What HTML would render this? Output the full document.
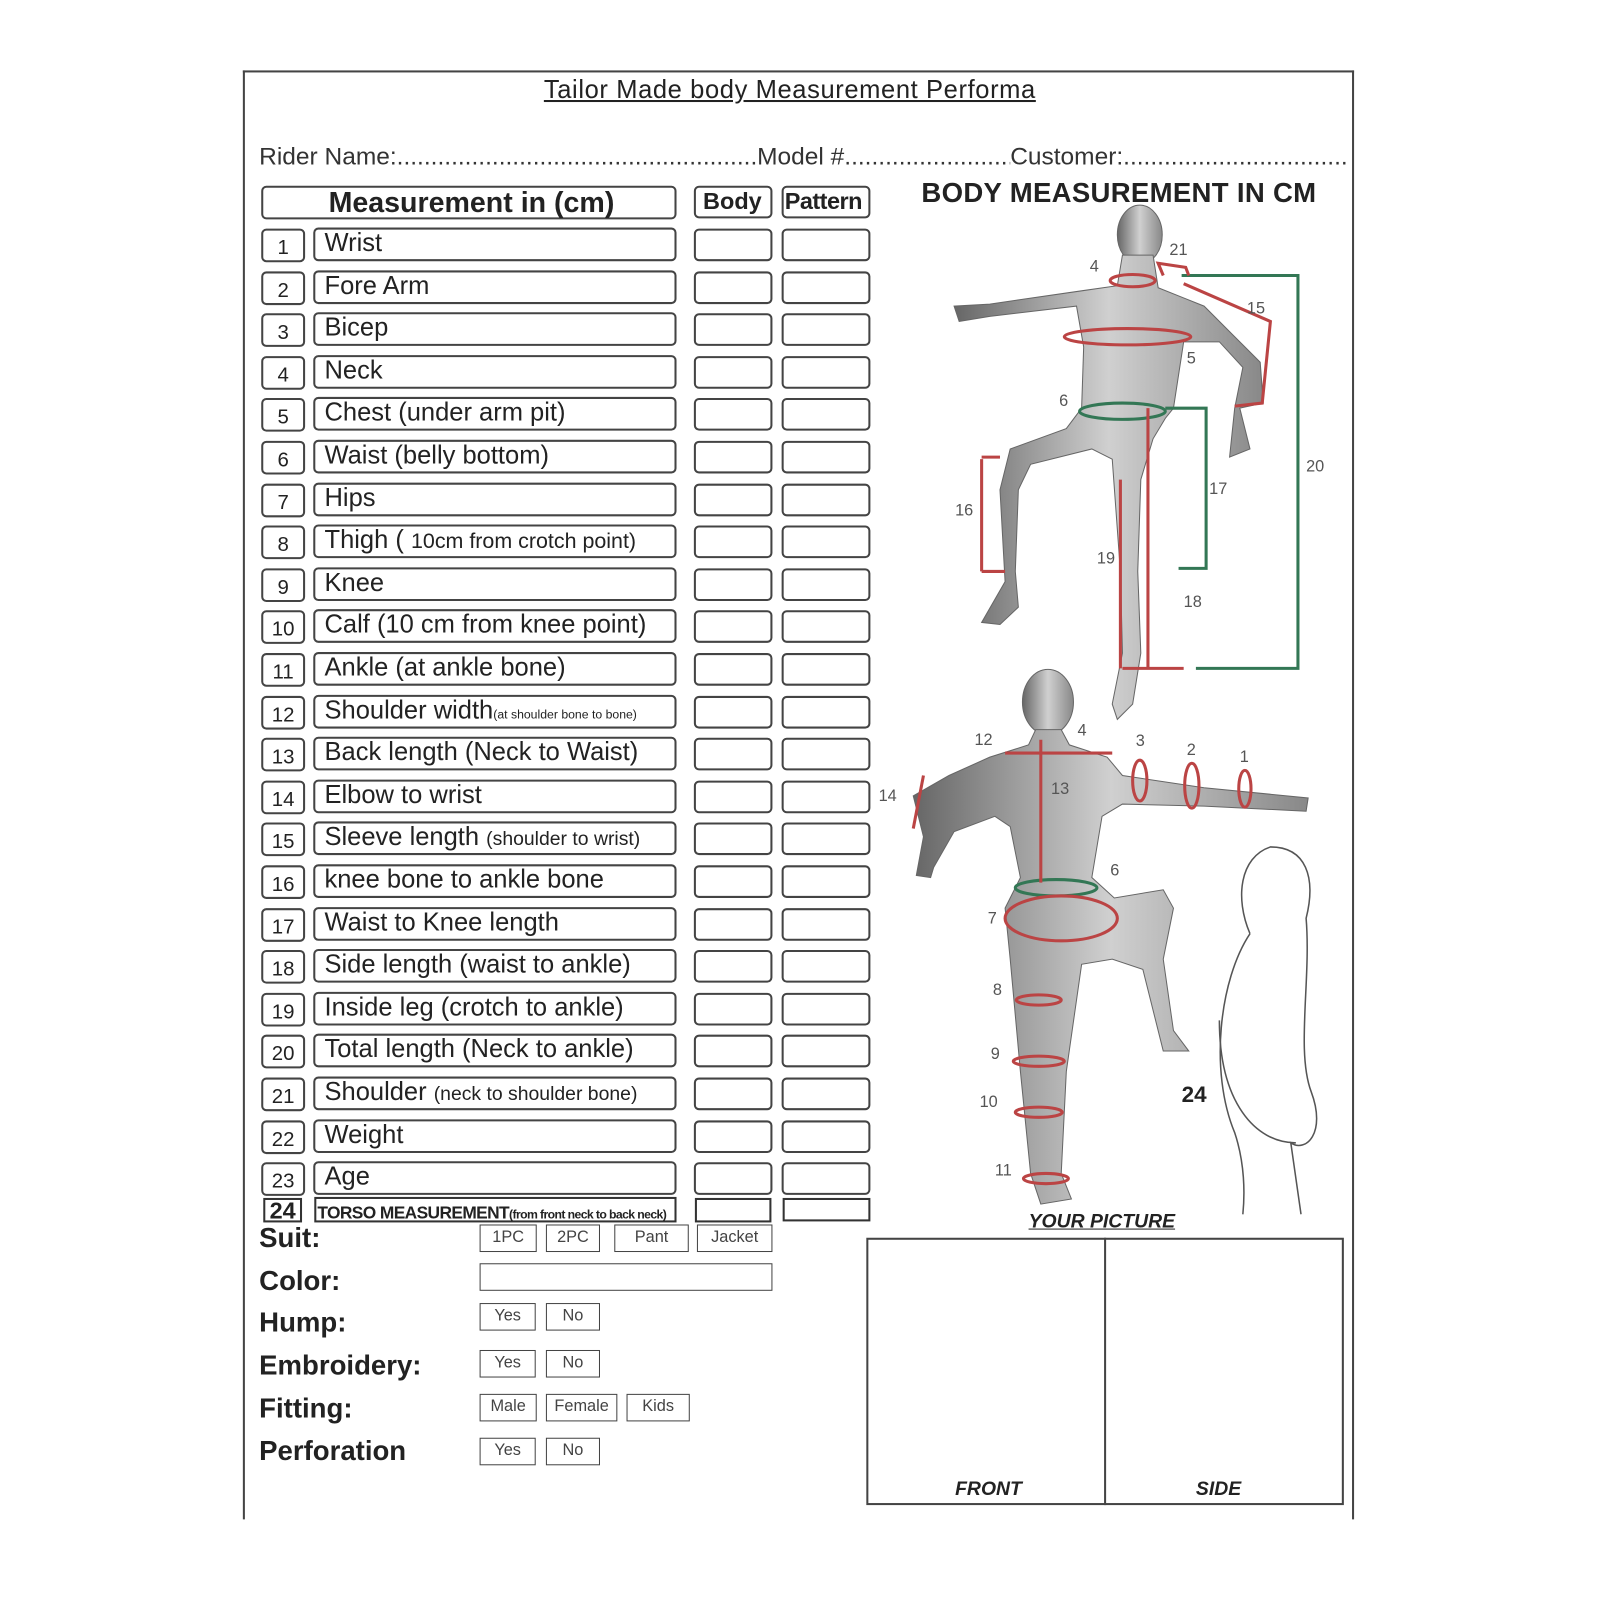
<!DOCTYPE html>
<html><head><meta charset="utf-8"><style>
html,body{margin:0;padding:0;background:#fff;width:1600px;height:1600px;overflow:hidden}
#w{position:absolute;left:0;top:0;width:1568px;height:1568px;transform:scale(1.0204);transform-origin:0 0;font-family:"Liberation Sans",sans-serif;color:#222}
.a{position:absolute}
.b{position:absolute;border:2px solid #444;border-radius:5px;box-sizing:border-box;background:#fff}
.t{position:absolute;font-size:25px;white-space:nowrap;line-height:1}
.d{position:absolute;font-size:24px;white-space:nowrap;line-height:1;overflow:hidden;color:#333}
.sq{position:absolute;border:1.5px solid #444;box-sizing:border-box;font-size:16px;text-align:center;color:#444}
.lab{position:absolute;left:254px;font-size:27px;font-weight:bold;line-height:1}
</style></head><body><div id="w">
<div class="a" style="left:238px;top:69px;width:1089px;height:2px;background:#444"></div>
<div class="a" style="left:238px;top:69px;width:2px;height:1420px;background:#444"></div>
<div class="a" style="left:1325px;top:69px;width:2px;height:1420px;background:#444"></div>
<div class="t" style="left:533px;top:76px;font-size:25px;letter-spacing:0.6px;text-decoration:underline">Tailor Made body Measurement Performa</div>
<div class="d" style="left:254px;top:142px;width:488px">Rider Name:....................................................................</div>
<div class="d" style="left:742px;top:142px;width:248px">Model #..................................................</div>
<div class="d" style="left:990px;top:142px;width:330px">Customer:.......................................................</div>

<div class="b" style="left:256px;top:182px;width:407px;height:33px"></div>
<div class="t" style="left:322px;top:185px;font-size:28px;font-weight:bold">Measurement in (cm)</div>
<div class="b" style="left:680px;top:182px;width:77px;height:32px"></div>
<div class="t" style="left:689px;top:186px;font-size:23px;font-weight:bold">Body</div>
<div class="b" style="left:766px;top:182px;width:87px;height:32px"></div>
<div class="t" style="left:769px;top:186px;font-size:23px;font-weight:bold;letter-spacing:-0.5px">Pattern</div>

<div id="rows"></div>

<div class="a" style="left:258px;top:1174px;width:38px;height:24px;border:2px solid #333;box-sizing:border-box;font-size:23px;font-weight:bold;line-height:20px;text-align:center">24</div>
<div class="a" style="left:308px;top:1173px;width:355px;height:25px;border:2px solid #333;box-sizing:border-box"></div>
<div class="t" style="left:311px;top:1180px;font-size:17px;font-weight:bold;letter-spacing:-0.6px">TORSO MEASUREMENT<span style="font-size:12px">(from front neck to back neck)</span></div>
<div class="a" style="left:681px;top:1174px;width:75px;height:24px;border:2px solid #333;box-sizing:border-box"></div>
<div class="a" style="left:767px;top:1174px;width:86px;height:23px;border:2px solid #333;box-sizing:border-box"></div>

<div class="lab" style="top:1200px">Suit:</div>
<div class="lab" style="top:1242px">Color:</div>
<div class="lab" style="top:1283px">Hump:</div>
<div class="lab" style="top:1325px">Embroidery:</div>
<div class="lab" style="top:1367px">Fitting:</div>
<div class="lab" style="top:1409px">Perforation</div>

<div class="sq" style="left:470px;top:1200px;width:56px;height:27px;line-height:24px">1PC</div>
<div class="sq" style="left:535px;top:1200px;width:53px;height:27px;line-height:24px">2PC</div>
<div class="sq" style="left:602px;top:1200px;width:73px;height:27px;line-height:24px">Pant</div>
<div class="sq" style="left:683px;top:1200px;width:74px;height:27px;line-height:24px">Jacket</div>
<div class="sq" style="left:470px;top:1238px;width:287px;height:27px"></div>
<div class="sq" style="left:470px;top:1277px;width:55px;height:27px;line-height:24px">Yes</div>
<div class="sq" style="left:535px;top:1277px;width:53px;height:27px;line-height:24px">No</div>
<div class="sq" style="left:470px;top:1323px;width:55px;height:27px;line-height:24px">Yes</div>
<div class="sq" style="left:535px;top:1323px;width:53px;height:27px;line-height:24px">No</div>
<div class="sq" style="left:470px;top:1366px;width:56px;height:27px;line-height:24px">Male</div>
<div class="sq" style="left:535px;top:1366px;width:70px;height:27px;line-height:24px">Female</div>
<div class="sq" style="left:614px;top:1366px;width:62px;height:27px;line-height:24px">Kids</div>
<div class="sq" style="left:470px;top:1409px;width:55px;height:27px;line-height:24px">Yes</div>
<div class="sq" style="left:535px;top:1409px;width:53px;height:27px;line-height:24px">No</div>

<div class="t" style="left:1008px;top:1188px;font-size:19px;font-weight:bold;font-style:italic;text-decoration:underline">YOUR PICTURE</div>
<div class="a" style="left:849px;top:1213px;width:468px;height:262px;border:2px solid #444;box-sizing:border-box"></div>
<div class="a" style="left:1082px;top:1213px;width:2px;height:262px;background:#444"></div>
<div class="t" style="left:936px;top:1450px;font-size:19px;font-weight:bold;font-style:italic">FRONT</div>
<div class="t" style="left:1172px;top:1450px;font-size:19px;font-weight:bold;font-style:italic">SIDE</div>

<div class="t" style="left:903px;top:176px;font-size:27px;font-weight:bold;letter-spacing:0.3px">BODY MEASUREMENT IN CM</div>

<svg class="a" style="left:0;top:0" width="1568" height="1568" viewBox="0 0 1568 1568">
<defs><linearGradient id="g" x1="0" x2="1"><stop offset="0" stop-color="#666"/><stop offset="0.5" stop-color="#d0d0d0"/><stop offset="1" stop-color="#888"/></linearGradient></defs>
<g fill="url(#g)" stroke="#666" stroke-width="1">
<ellipse cx="1117" cy="230" rx="22" ry="29"/>
<path d="M1100 250 L1130 250 L1135 282 L1160 292 L1180 300 L1210 330 L1235 355 L1238 395 L1215 400 L1225 440 L1205 448 L1210 400 L1218 360 L1195 335 L1160 335 L1150 400 L1142 410 L1130 430 L1118 470 L1115 560 L1118 640 L1110 690 L1095 705 L1090 690 L1100 640 L1098 560 L1090 450 L1070 440 L1010 455 L998 480 L995 560 L998 595 L980 612 L962 610 L985 570 L980 480 L990 440 L1045 420 L1060 400 L1062 340 L1055 300 L970 310 L940 315 L935 300 L970 298 L1060 285 L1095 280 Z"/>
<ellipse cx="1027" cy="688" rx="25" ry="32"/>
<path d="M1015 715 L1040 715 L1048 730 L1085 742 L1100 760 L1180 772 L1282 782 L1280 795 L1180 790 L1100 788 L1080 800 L1070 860 L1092 880 L1140 872 L1150 890 L1140 940 L1150 1010 L1165 1030 L1140 1030 L1120 950 L1090 940 L1060 945 L1045 1050 L1040 1150 L1050 1175 L1020 1180 L1010 1150 L1000 1050 L990 940 L985 890 L1000 860 L990 810 L975 800 L935 815 L915 850 L912 860 L898 858 L905 820 L895 780 L930 760 L970 742 L1008 730 Z"/>
</g>
<g fill="none" stroke="#337755" stroke-width="3">
<path d="M1158 270 H1272 V655 H1172"/>
<path d="M1142 400 H1182 V557 H1155"/>
<ellipse cx="1100" cy="403" rx="42" ry="8"/>
<ellipse cx="1035" cy="870" rx="40" ry="8"/>
</g>
<g fill="none" stroke="#b44" stroke-width="3">
<path d="M1140 270 L1135 258 L1162 262 L1165 270"/>
<ellipse cx="1110" cy="275" rx="22" ry="6"/>
<ellipse cx="1105" cy="330" rx="62" ry="8"/>
<path d="M1160 278 L1245 315 L1237 395 L1210 398"/>
<path d="M1125 400 V655 M1098 470 V655 M962 450 V560 M1100 655 H1160"/>
<path d="M962 448 H980 M962 560 H985"/>
<path d="M1020 725 V865 M985 738 H1090"/>
<path d="M905 760 L895 812"/>
<ellipse cx="1117" cy="765" rx="7" ry="20"/><ellipse cx="1168" cy="770" rx="7" ry="22"/><ellipse cx="1220" cy="773" rx="6" ry="18"/>
<ellipse cx="1040" cy="900" rx="55" ry="22"/>
<ellipse cx="1018" cy="980" rx="22" ry="5"/><ellipse cx="1018" cy="1040" rx="25" ry="5"/><ellipse cx="1018" cy="1090" rx="23" ry="5"/><ellipse cx="1025" cy="1155" rx="22" ry="5"/>
</g>
<g fill="none" stroke="#555" stroke-width="1.5">
<path d="M1225 915 C1210 880 1215 840 1245 830 C1280 830 1290 860 1280 900 C1285 960 1270 1030 1285 1070 C1300 1110 1280 1130 1265 1120 L1275 1190 M1225 915 C1195 960 1185 1050 1210 1110 C1220 1140 1220 1170 1218 1190"/>
<path d="M1195 1000 C1195 1080 1230 1120 1270 1120"/>
</g>
<g font-family="Liberation Sans" font-size="16" fill="#555">
<text x="1068" y="266">4</text><text x="1146" y="250">21</text><text x="1222" y="307">15</text><text x="1163" y="356">5</text>
<text x="1038" y="398">6</text><text x="1280" y="462">20</text><text x="1185" y="484">17</text><text x="936" y="505">16</text>
<text x="1075" y="552">19</text><text x="1160" y="595">18</text>
<text x="955" y="730">12</text><text x="1056" y="721">4</text><text x="1113" y="731">3</text><text x="1163" y="740">2</text><text x="1215" y="747">1</text>
<text x="861" y="785">14</text><text x="1030" y="778">13</text><text x="1088" y="858">6</text><text x="968" y="905">7</text>
<text x="973" y="975">8</text><text x="971" y="1038">9</text><text x="960" y="1085">10</text><text x="975" y="1152">11</text>
</g>
<text x="1158" y="1080" font-family="Liberation Sans" font-size="22" font-weight="bold" fill="#222">24</text>
</svg>
</div>
<script>
var L=["Wrist","Fore Arm","Bicep","Neck","Chest (under arm pit)","Waist (belly bottom)","Hips","Thigh ( <span style='font-size:21px'>10cm from crotch point)</span>","Knee","Calf (10 cm from knee point)","Ankle (at ankle bone)","Shoulder width<span style='font-size:12px'>(at shoulder bone to bone)</span>","Back length (Neck to Waist)","Elbow to wrist","Sleeve length <span style='font-size:19px'>(shoulder to wrist)</span>","knee bone to ankle bone","Waist to Knee length","Side length (waist to ankle)","Inside leg (crotch to ankle)","Total length (Neck to ankle)","Shoulder <span style='font-size:19px'>(neck to shoulder bone)</span>","Weight","Age"];
var h="";for(var i=0;i<23;i++){var y=Math.round(224+i*41.6);
h+='<div class="b" style="left:256px;top:'+y+'px;width:43px;height:33px"></div><div class="t" style="left:256px;width:43px;text-align:center;top:'+(y+9)+'px;font-size:20px">'+(i+1)+'</div>';
h+='<div class="b" style="left:307px;top:'+(y-1)+'px;width:356px;height:33px"></div><div class="t" style="left:318px;top:'+(y+2)+'px">'+L[i]+'</div>';
h+='<div class="b" style="left:680px;top:'+y+'px;width:77px;height:32px"></div><div class="b" style="left:766px;top:'+y+'px;width:87px;height:32px"></div>';}
document.getElementById("rows").innerHTML=h;
</script>
</body></html>
